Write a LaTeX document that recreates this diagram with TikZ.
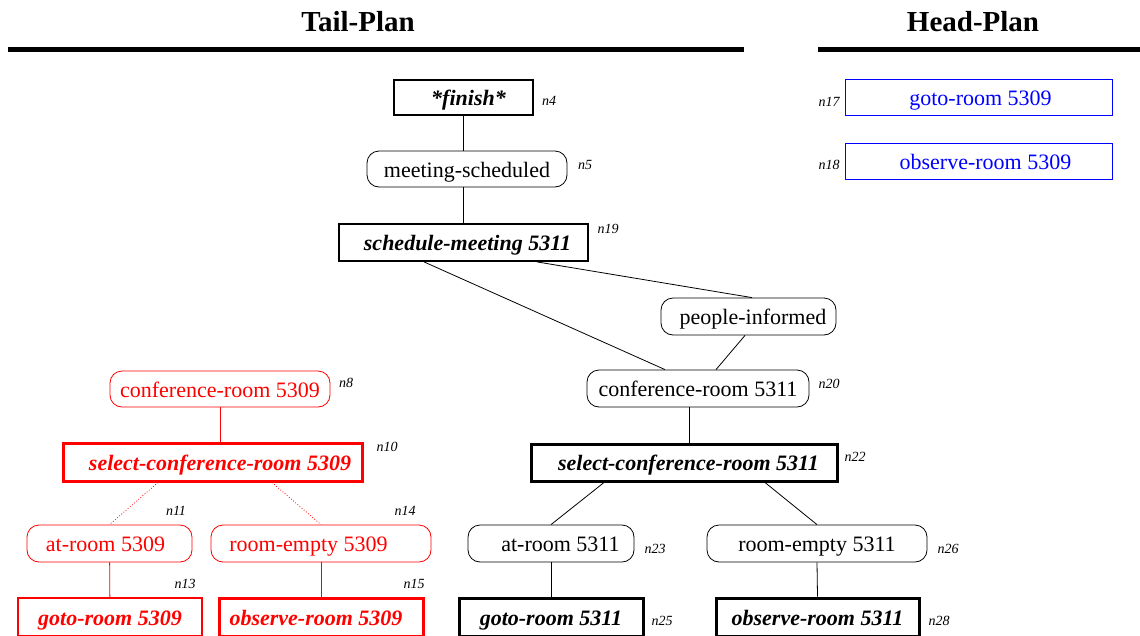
\documentclass[tikz,border=0pt]{standalone}
\usepackage{fontspec}
\setmainfont{Liberation Serif}
\newcommand\shft[2]{\hspace*{#1}#2\hspace*{-#1}}
\begin{document}
\begin{tikzpicture}[x=1pt,y=-1pt,
  txt/.style={font=\fontsize{22}{24}\selectfont, text height=18pt, text depth=2pt},
  cond/.style={draw, rounded corners=12pt, line width=0.8pt, inner sep=0pt, txt},
  act/.style={draw, line width=1.8pt, inner sep=0pt, txt, font=\fontsize{22}{24}\selectfont\bfseries\itshape},
  bigact/.style={act, line width=3pt},
  hp/.style={draw, line width=0.8pt, inner sep=0pt, txt},
  lab/.style={inner sep=0pt, font=\fontsize{14}{16}\selectfont\itshape},
  ttl/.style={inner sep=0pt, font=\fontsize{29}{32}\selectfont\bfseries},
  rule/.style={line width=5pt},
  edge/.style={line width=0.8pt}]
\useasboundingbox (0,0) rectangle (1140,635);
% titles
\node[ttl] (tt) at (358,22) {Tail-Plan};
\node[ttl] (ht) at (973,22) {Head-Plan};
\coordinate (ta) at (8,49); \coordinate (tb) at (744,49);
\coordinate (ha) at (818,49); \coordinate (hb) at (1140,49);
\draw[rule] (ta) -- (tb);
\draw[rule] (ha) -- (hb);
% head plan
\node[hp, blue, minimum width=267, minimum height=36] (n17) at (978.5,97) {\shft{2pt}{goto-room 5309}};
\node[hp, blue, minimum width=267, minimum height=36] (n18) at (978.5,161) {\shft{7pt}{observe-room 5309}};
\node[lab] (l17) at (829,102) {n17};
\node[lab] (l18) at (829,165) {n18};
% main tree
\node[act, minimum width=139, minimum height=35] (n4) at (463.5,97.5) {\shft{5pt}{*finish*}};
\node[lab] (l4) at (549,101) {n4};
\node[cond, minimum width=200, minimum height=36] (n5) at (467,169) {meeting-scheduled};
\node[lab] (l5) at (585,165) {n5};
\node[act, minimum width=249, minimum height=37] (n19) at (463.5,242.5) {\shft{4pt}{schedule-meeting 5311}};
\node[lab] (l19) at (608,229) {n19};
\node[cond, minimum width=175, minimum height=37] (pi) at (748.5,316.5) {\shft{4.5pt}{people-informed}};
\node[cond, minimum width=222, minimum height=37] (n20) at (698,388.5) {conference-room 5311};
\node[lab] (l20) at (829,384) {n20};
\node[bigact, minimum width=306, minimum height=37] (n22) at (684,462.5) {\shft{4.5pt}{select-conference-room 5311}};
\node[lab] (l22) at (855,457) {n22};
\node[cond, minimum width=166, minimum height=37] (n23) at (551,543.5) {\shft{9.5pt}{at-room 5311}};
\node[lab] (l23) at (655,549) {n23};
\node[cond, minimum width=220, minimum height=37] (n26) at (817,543.5) {room-empty 5311};
\node[lab] (l26) at (948,549) {n26};
\node[bigact, minimum width=184, minimum height=38] (n25) at (551,617) {goto-room 5311};
\node[lab] (l25) at (662,621) {n25};
\node[bigact, minimum width=203, minimum height=38] (n28) at (817.5,617) {observe-room 5311};
\node[lab] (l28) at (939,621) {n28};
% red part
\begin{scope}[red]
\node[cond, minimum width=220, minimum height=36] (n8) at (220,389) {conference-room 5309};
\node[lab, black] (l8) at (346,383) {n8};
\node[bigact, minimum width=299, minimum height=38] (n10) at (212.5,462) {\shft{7.5pt}{select-conference-room 5309}};
\node[lab, black] (l10) at (387,447) {n10};
\node[cond, minimum width=165, minimum height=37] (n11) at (109.5,543.5) {\shft{-4pt}{at-room 5309}};
\node[lab, black] (l11) at (176,511) {n11};
\node[cond, minimum width=220, minimum height=37] (n14) at (321,543.5) {\shft{-12.5pt}{room-empty 5309}};
\node[lab, black] (l14) at (405,511) {n14};
\node[act, minimum width=184, minimum height=38] (n13) at (110,617) {goto-room 5309};
\node[lab, black] (l13) at (185,584) {n13};
\node[bigact, minimum width=204, minimum height=38] (n15) at (321,617) {\shft{-5pt}{observe-room 5309}};
\node[lab, black] (l15) at (414,584) {n15};
\end{scope}
% edges
\draw[edge] (n4) -- (n5.north -| n4.south);
\draw[edge] (n5.south -| n4.south) -- (n19.north -| n4.south);
\draw[edge] ([xshift=-39.5pt]n19.south) -- ([xshift=-33pt]n20.north);
\draw[edge] ([xshift=73.5pt]n19.south) -- ([xshift=3.5pt]pi.north);
\draw[edge] ([xshift=-3.5pt]pi.south) -- ([xshift=18pt]n20.north);
\draw[edge] ([xshift=-9pt]n20.south) -- ([xshift=5pt]n22.north);
\draw[edge] ([xshift=-80pt]n22.south) -- (n23.north);
\draw[edge] ([xshift=81pt]n22.south) -- (n26.north);
\draw[edge] (n23) -- (n25);
\draw[edge] (n26.south) -- (n28.north);
\draw[edge, red] (n8) -- ([xshift=7.5pt]n10.north);
\draw[edge, red, dotted] ([xshift=-54.5pt]n10.south) -- (n11.north);
\draw[edge, red, dotted] ([xshift=59.5pt]n10.south) -- (n14.north);
\draw[edge, red] (n11) -- (n13);
\draw[edge, red] (n14) -- (n15);
\end{tikzpicture}
\end{document}
